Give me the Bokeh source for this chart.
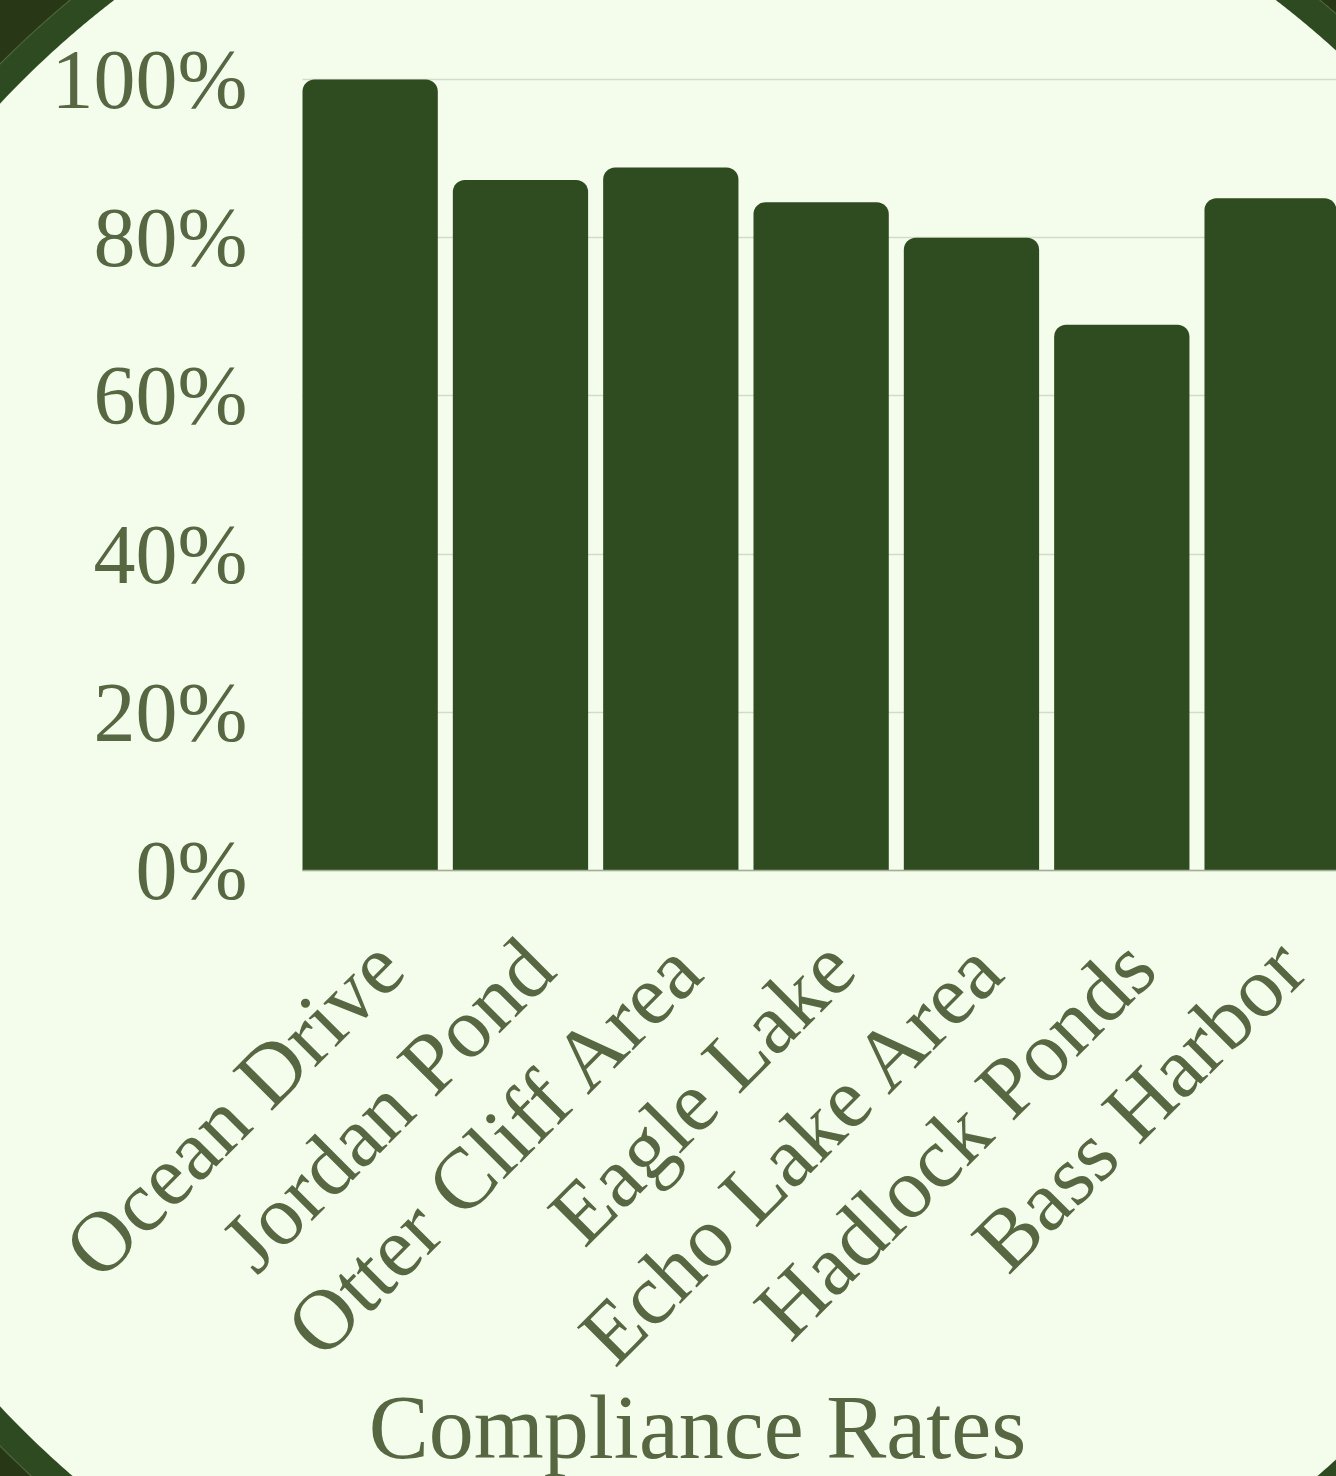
import math
from bokeh.plotting import figure
from bokeh.models import Range1d, FixedTicker, PrintfTickFormatter, ColumnDataSource, Label
from bokeh.embed import file_html
from bokeh.resources import INLINE

# ---- data ----
categories = ["Ocean Drive", "Jordan Pond", "Otter Cliff Area", "Eagle Lake",
              "Echo Lake Area", "Hadlock Ponds", "Bass Harbor"]
compliance = [100, 87.3, 88.9, 84.5, 80, 69, 85]
y_ticks = [0, 20, 40, 60, 80, 100]
x_title = "Compliance Rates"

# ---- style ----
BG_LIGHT = "#f4fcec"
BAR = "#2f4b20"
RING = "#2e4a20"
OUTER = "#283816"
TEXT = "#566741"
GRID = "#d3dbc8"
FONT = "Liberation Serif"

W, H = 1336, 1476
LEFT = 302            # pixel column of the value axis
PITCH = 150.33        # pixels per category
BASE_Y = 870          # pixel row of the 0% baseline
Y_MAX = 110
LABEL_SHIFT = 0.12
X0 = 0.05             # left edge of the first bar (category units)

x_pos = [i + 0.5 for i in range(len(categories))]
tick_pos = [xv + LABEL_SHIFT for xv in x_pos]
src = ColumnDataSource(dict(x=x_pos, top=compliance, name=categories))

ppu = BASE_Y / Y_MAX
x_end = X0 + (W - LEFT) / PITCH
p = figure(width=W, height=H, output_backend="svg", toolbar_location=None,
           x_range=Range1d(X0 - LEFT / PITCH, x_end),
           y_range=Range1d(Y_MAX - H / ppu, Y_MAX),
           min_border_left=0, min_border_right=0, min_border_top=0,
           min_border_bottom=0)
p.border_fill_color = None
p.background_fill_color = None
p.outline_line_color = None
p.styles = {
    "background": ("radial-gradient(circle 1400px at 695px 755px, "
                   f"{BG_LIGHT} 0px, {BG_LIGHT} 952px, {RING} 953px, {RING} 979px, "
                   f"#53683f 980px, {OUTER} 981px, {OUTER} 100%)"),
}

p.vbar(x="x", top="top", bottom=0, width=0.9, source=src,
       fill_color=BAR, line_color=None, border_radius=(12, 12, 0, 0))

# y axis, pinned at the left edge of the bars
p.yaxis.fixed_location = X0
p.yaxis.ticker = FixedTicker(ticks=y_ticks)
p.yaxis.formatter = PrintfTickFormatter(format="%d%%")
p.yaxis.axis_line_color = None
p.yaxis.major_tick_line_color = None
p.yaxis.minor_tick_line_color = None
p.yaxis.major_label_text_font = FONT
p.yaxis.major_label_text_font_size = "84px"
p.yaxis.major_label_text_color = TEXT
p.yaxis.major_label_standoff = 49

p.ygrid.ticker = FixedTicker(ticks=y_ticks)
p.ygrid.grid_line_color = GRID
p.ygrid.grid_line_width = 1.5
if "cross_bounds" in p.ygrid.properties():
    p.ygrid.cross_bounds = (X0, x_end)
p.xgrid.grid_line_color = None

# x axis, pinned at the 0% baseline
p.xaxis.fixed_location = 0
p.xaxis.ticker = FixedTicker(ticks=tick_pos)
p.xaxis.major_label_overrides = {tv: n for tv, n in zip(tick_pos, categories)}
p.xaxis.major_label_orientation = math.pi / 4
p.xaxis.major_label_text_font = FONT
p.xaxis.major_label_text_font_size = "86px"
p.xaxis.major_label_text_color = TEXT
p.xaxis.major_label_standoff = 77
p.xaxis.major_tick_line_color = None
p.xaxis.minor_tick_line_color = None
p.xaxis.axis_line_color = "#a3ae94"
p.xaxis.axis_line_width = 1.5
p.xaxis.bounds = (X0, x_end)

# x axis title
title = Label(x=697, y=49, x_units="screen", y_units="screen", text=x_title,
              text_font=FONT, text_font_size="90px", text_color=TEXT,
              text_align="center", text_baseline="alphabetic")
p.add_layout(title)

open("out.html", "w").write(file_html(p, INLINE))
